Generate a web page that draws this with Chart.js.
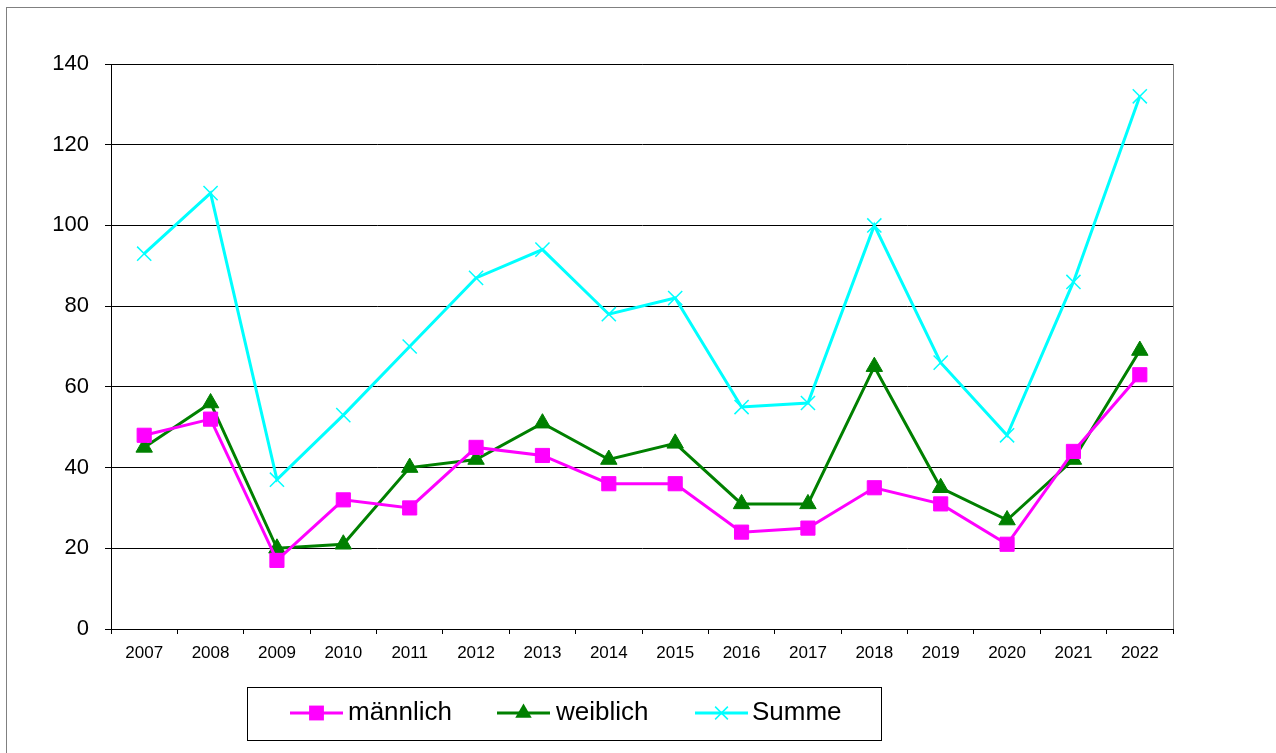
<!DOCTYPE html>
<html>
<head>
    <title>männlich / weiblich / Summe 2007-2022</title>
    <script src="https://cdn.jsdelivr.net/npm/chart.js"></script>
    <style>
        body { margin: 0; background: #fff; }
        #wrap { width: 1276px; height: 753px; }
    </style>
</head>
<body>
<div id="wrap"><canvas id="chart" width="1276" height="753"></canvas></div>
<script>
    const years = ['2007', '2008', '2009', '2010', '2011', '2012', '2013', '2014',
                   '2015', '2016', '2017', '2018', '2019', '2020', '2021', '2022'];
    const maennlich = [48, 52, 17, 32, 30, 45, 43, 36, 36, 24, 25, 35, 31, 21, 44, 63];
    const weiblich  = [45, 56, 20, 21, 40, 42, 51, 42, 46, 31, 31, 65, 35, 27, 42, 69];
    const summe     = [93, 108, 37, 53, 70, 87, 94, 78, 82, 55, 56, 100, 66, 48, 86, 132];
    const yMin = 0, yMax = 140, yStep = 20;

    const FONT = "'Liberation Sans', Arial, sans-serif";

    function marker(ctx, style, x, y, r, color) {
        ctx.save();
        ctx.fillStyle = color;
        ctx.strokeStyle = color;
        ctx.lineWidth = 1.5;
        ctx.beginPath();
        if (style === 'rect') {
            const s = r * Math.SQRT1_2;
            ctx.rect(x - s, y - s, 2 * s, 2 * s);
            ctx.fill();
        } else if (style === 'triangle') {
            ctx.moveTo(x, y - r);
            ctx.lineTo(x + r * Math.sin(2 * Math.PI / 3), y - r * Math.cos(2 * Math.PI / 3));
            ctx.lineTo(x + r * Math.sin(4 * Math.PI / 3), y - r * Math.cos(4 * Math.PI / 3));
            ctx.closePath();
            ctx.fill();
        } else {
            const o = r * Math.SQRT1_2;
            ctx.moveTo(x - o, y - o); ctx.lineTo(x + o, y + o);
            ctx.moveTo(x - o, y + o); ctx.lineTo(x + o, y - o);
            ctx.stroke();
        }
        ctx.restore();
    }

    // frame, outer border and legend box
    const decor = {
        id: 'decor',
        beforeDraw(chart) {
            const ctx = chart.ctx;
            ctx.save();
            ctx.fillStyle = '#fff';
            ctx.fillRect(0, 0, chart.width, chart.height);
            ctx.strokeStyle = '#808080';
            ctx.lineWidth = 1;
            ctx.strokeRect(6.5, 7.5, 1400, 900);
            const a = chart.chartArea;
            ctx.strokeRect(a.left + 0.5, a.top + 0.5, a.right - a.left, a.bottom - a.top);
            ctx.restore();
        },
        afterDraw(chart) {
            const ctx = chart.ctx;
            ctx.save();
            ctx.strokeStyle = '#000';
            ctx.lineWidth = 1;
            ctx.strokeRect(247.5, 687.5, 634, 53);
            const lineX = [290, 497, 695];
            const textX = [348, 556, 752];
            const y = 713;
            const radii = [10.5, 9.5, 9];
            chart.data.datasets.forEach((ds, i) => {
                ctx.strokeStyle = ds.borderColor;
                ctx.lineWidth = 3;
                ctx.beginPath();
                ctx.moveTo(lineX[i], y);
                ctx.lineTo(lineX[i] + 53, y);
                ctx.stroke();
                marker(ctx, ds.pointStyle, lineX[i] + 26.5, y, radii[i], ds.borderColor);
                ctx.fillStyle = '#000';
                ctx.font = '26px ' + FONT;
                ctx.textBaseline = 'middle';
                ctx.fillText(ds.label, textX[i], y);
            });
            ctx.restore();
        }
    };

    new Chart(document.getElementById('chart'), {
        type: 'line',
        data: {
            labels: years,
            datasets: [
                {
                    label: 'männlich', data: maennlich,
                    borderColor: '#ff00ff', backgroundColor: '#ff00ff',
                    borderWidth: 3, pointStyle: 'rect', pointRadius: 10,
                    pointBorderWidth: 1, tension: 0
                },
                {
                    label: 'weiblich', data: weiblich,
                    borderColor: '#008000', backgroundColor: '#008000',
                    borderWidth: 3, pointStyle: 'triangle', pointRadius: 9.5,
                    pointBorderWidth: 1, tension: 0
                },
                {
                    label: 'Summe', data: summe,
                    borderColor: '#00ffff', backgroundColor: '#00ffff',
                    borderWidth: 3, pointStyle: 'crossRot', pointRadius: 10,
                    pointBorderWidth: 1.5, tension: 0
                }
            ]
        },
        options: {
            responsive: false,
            animation: false,
            layout: { padding: { left: 0, right: 103, top: 64, bottom: 0 } },
            plugins: {
                legend: { display: false },
                tooltip: { enabled: false }
            },
            scales: {
                x: {
                    offset: true,
                    afterFit(scale) { scale.height = 124; },
                    grid: { offset: true, drawOnChartArea: false, drawTicks: true, tickLength: 5, color: '#000' },
                    border: { color: '#000', width: 1 },
                    ticks: { color: '#000', font: { family: FONT, size: 17 }, padding: 9, maxRotation: 0 }
                },
                y: {
                    min: yMin, max: yMax,
                    afterFit(scale) { scale.width = 111; },
                    grid: { color: '#000', tickLength: 6, lineWidth: 1 },
                    border: { color: '#000', width: 1 },
                    ticks: { stepSize: yStep, color: '#000', font: { family: FONT, size: 22 }, padding: 16 }
                }
            }
        },
        plugins: [decor]
    });
</script>
</body>
</html>
